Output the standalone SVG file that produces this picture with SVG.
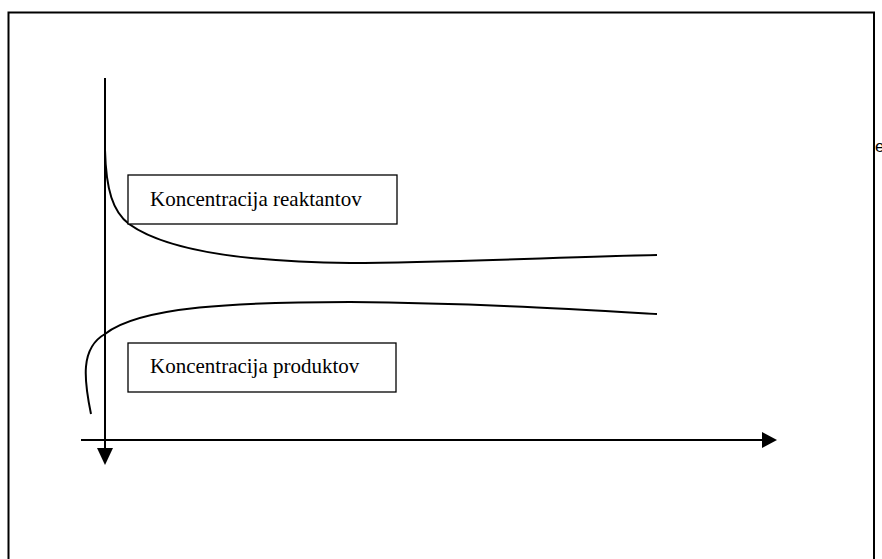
<svg xmlns="http://www.w3.org/2000/svg" width="882" height="559" viewBox="0 0 882 559">
<style>
.ln{fill:none;stroke:#000;stroke-width:2}
.bx{fill:#fff;stroke:#000;stroke-width:1.3}
.t{font-family:"Liberation Serif",serif;font-size:21px;fill:#000}
</style>
<rect x="0" y="0" width="882" height="559" fill="#fff"/>
<path d="M8.5,600 V12.5 H874 V600" fill="none" stroke="#000" stroke-width="2"/>
<text x="875" y="152" font-family="Liberation Sans,sans-serif" font-size="17">e</text>
<g id="connectors">
<line x1="105" y1="78" x2="105" y2="450" class="ln"/>
<path d="M97,448 L113,448 L105,465 Z" fill="#000"/>
<line x1="81" y1="440" x2="762" y2="440" class="ln"/>
<path d="M762,432 L777,440 L762,448 Z" fill="#000"/>
<path class="ln" d="M105,150 C106,190 113,212 129,224 C165,250 240,262 350,263 C450,263 560,257 657,255"/>
<path class="ln" d="M91,414 C84,380 80,348 105,334 C140,306 240,302 350,302 C470,303 570,309 657,314"/>
</g>
<g id="reaktanti">
<rect class="bx" x="128" y="175" width="269" height="49"/>
<text class="t" x="150" y="206">Koncentracija reaktantov</text>
</g>
<g id="produkti">
<rect class="bx" x="128" y="343" width="268" height="49"/>
<text class="t" x="150" y="373">Koncentracija produktov</text>
</g>
</svg>
